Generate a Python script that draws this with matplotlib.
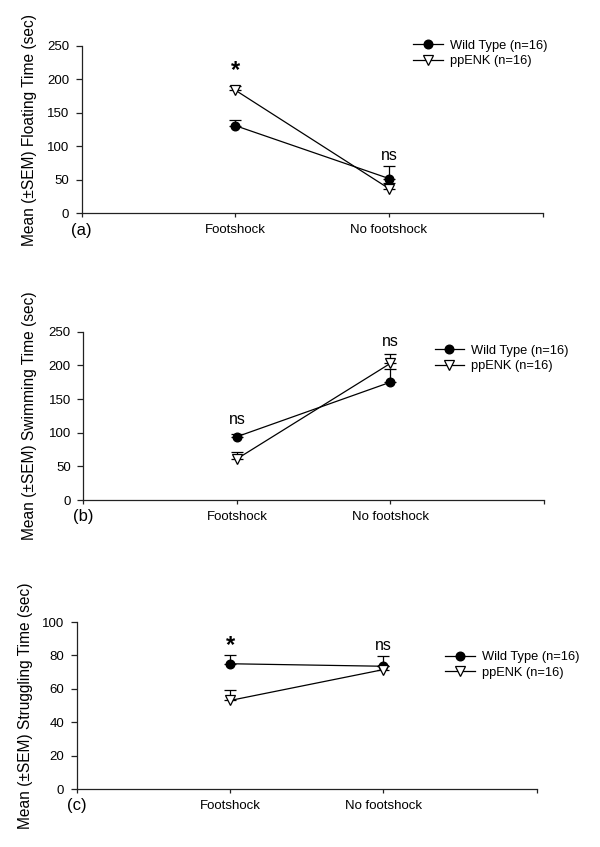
import numpy as np
import matplotlib.pyplot as plt

plt.rcParams['font.family'] = ['Liberation Sans', 'DejaVu Sans']

conditions = ['Footshock', 'No footshock']
x_pos = [1, 2]

# floating time (sec)
float_wt = [131, 52]
float_wt_sem = [9, 18.5]
float_pp = [184, 37]
float_pp_sem = [6, 8]
float_sig = ['*', 'ns']
float_sig_y = [214, 87]

# swimming time (sec)
swim_wt = [94, 175]
swim_wt_sem = [4, 19]
swim_pp = [61, 203]
swim_pp_sem = [10, 14]
swim_sig = ['ns', 'ns']
swim_sig_y = [119, 236]

# struggling time (sec)
strug_wt = [75, 73.5]
strug_wt_sem = [5.5, 6]
strug_pp = [53, 71.5]
strug_pp_sem = [6.5, 2]
strug_sig = ['*', 'ns']
strug_sig_y = [86, 86]

W, H = 600, 847
fig = plt.figure(figsize=(W / 100, H / 100), dpi=100)


def px(l, t, r, b):
    # pixel box -> figure fraction rect
    return [l / W, 1 - b / H, (r - l) / W, (b - t) / H]


panels = [
    dict(rect=px(81.7, 46, 542.5, 213.3), wt=float_wt, wt_e=float_wt_sem,
         pp=float_pp, pp_e=float_pp_sem, sig=float_sig, sig_y=float_sig_y,
         ymax=250, ystep=50, letter='(a)',
         ylabel='Mean (\u00b1SEM) Floating Time (sec)', ylab_x=30,
         leg=(413, 53.5)),
    dict(rect=px(83.3, 331.7, 544, 500), wt=swim_wt, wt_e=swim_wt_sem,
         pp=swim_pp, pp_e=swim_pp_sem, sig=swim_sig, sig_y=swim_sig_y,
         ymax=250, ystep=50, letter='(b)',
         ylabel='Mean (\u00b1SEM) Swimming Time (sec)', ylab_x=30,
         leg=(434.6, 358.5)),
    dict(rect=px(76.7, 622, 536.7, 789), wt=strug_wt, wt_e=strug_wt_sem,
         pp=strug_pp, pp_e=strug_pp_sem, sig=strug_sig, sig_y=strug_sig_y,
         ymax=100, ystep=20, letter='(c)',
         ylabel='Mean (\u00b1SEM) Struggling Time (sec)', ylab_x=26,
         leg=(445, 665)),
]

for p in panels:
    ax = fig.add_axes(p['rect'])
    # upper SEM bars only
    ax.errorbar(x_pos, p['wt'], yerr=[np.zeros(2), p['wt_e']], fmt='none',
                ecolor='k', elinewidth=0.9, capsize=4, capthick=0.9, zorder=1)
    ax.errorbar(x_pos, p['pp'], yerr=[np.zeros(2), p['pp_e']], fmt='none',
                ecolor='k', elinewidth=0.9, capsize=4, capthick=0.9, zorder=1)
    ax.plot(x_pos, p['wt'], '-o', color='k', lw=0.9, ms=6.2,
            mfc='k', mec='k', label='Wild Type (n=16)', zorder=3)
    ax.plot(x_pos, p['pp'], '-v', color='k', lw=0.9, ms=7,
            mfc='white', mec='k', mew=0.9, label='ppENK (n=16)', zorder=3)

    for xi, s, yi in zip(x_pos, p['sig'], p['sig_y']):
        if s == '*':
            ax.text(xi, yi, s, ha='center', va='center', fontsize=17,
                    fontweight='bold', clip_on=False)
        else:
            ax.text(xi, yi, s, ha='center', va='center', fontsize=11.5,
                    clip_on=False)

    ax.set_xlim(0, 3)
    ax.set_ylim(0, p['ymax'])
    ax.set_xticks([0, 1, 2, 3])
    ax.set_xticklabels([''] + conditions + [''])
    ax.set_yticks(np.arange(0, p['ymax'] + 1, p['ystep']))
    for side in ['top', 'right']:
        ax.spines[side].set_visible(False)
    for side in ['left', 'bottom']:
        ax.spines[side].set_linewidth(0.9)
        ax.spines[side].set_color('#222222')
    ax.tick_params(axis='y', direction='out', length=4, width=0.9,
                   pad=5, labelsize=9.5, color='#222222')
    ax.tick_params(axis='x', direction='out', length=3, width=0.9,
                   pad=5, labelsize=9.5, color='#222222')

    l, b, w, h = p['rect']
    ax.text(0.0, -0.1, p['letter'], transform=ax.transAxes, ha='center',
            va='center', fontsize=12)
    fig.text(p['ylab_x'] / W, b + h / 2, p['ylabel'], rotation=90,
             ha='center', va='center', fontsize=11.2)

    lx, ly = p['leg']
    ax.legend(loc='center left', bbox_to_anchor=(lx / W, 1 - ly / H),
              bbox_transform=fig.transFigure, frameon=False, fontsize=9.3,
              borderpad=0, borderaxespad=0, handlelength=2.3,
              handletextpad=0.55, labelspacing=0.3)

fig.savefig('out.png', dpi=100)
